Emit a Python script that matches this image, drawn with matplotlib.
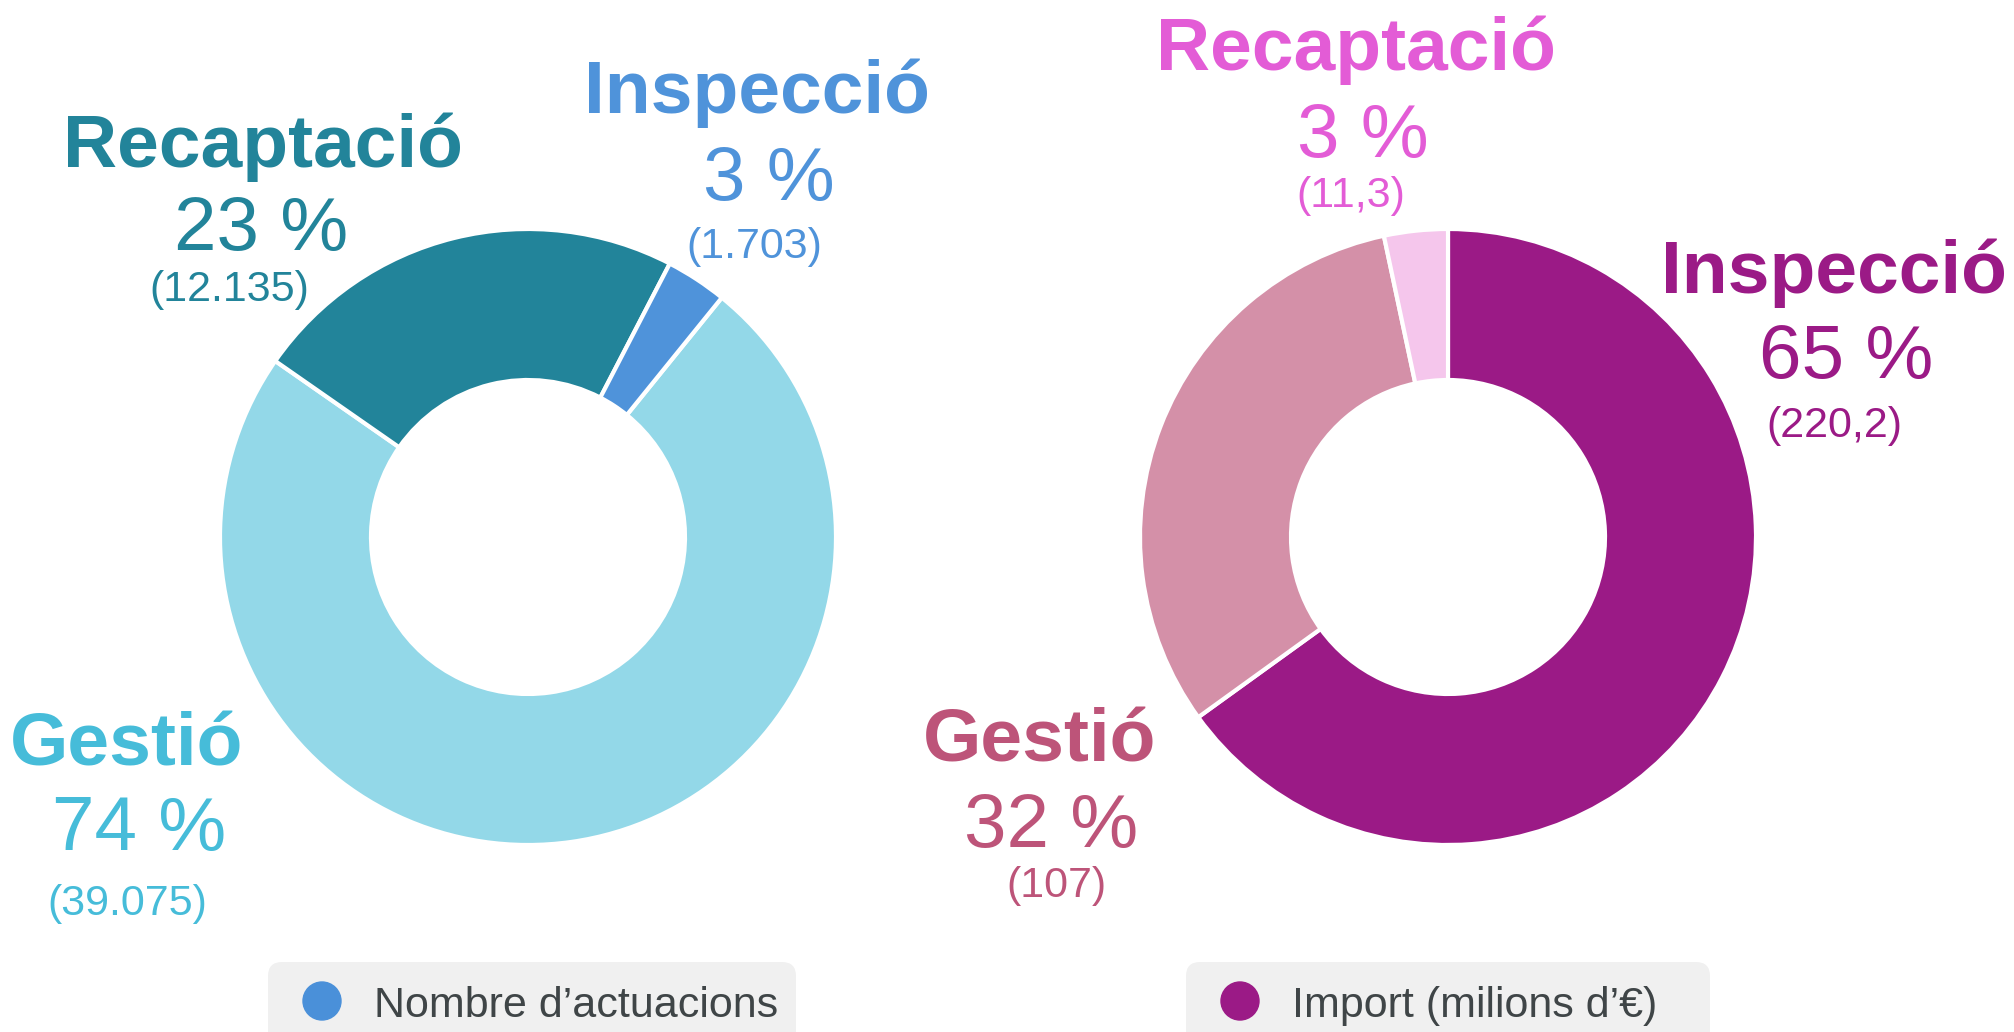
import matplotlib
matplotlib.use("Agg")
import matplotlib.pyplot as plt
from matplotlib.patches import FancyBboxPatch, Circle

plt.rcParams['font.family'] = ['Liberation Sans', 'DejaVu Sans']

# dades
cats_left = ["Gestió", "Recaptació", "Inspecció"]
vals_left = [39075, 12135, 1703]
pct_left = ["74 %", "23 %", "3 %"]
num_left = ["(39.075)", "(12.135)", "(1.703)"]
slice_left = ["#93D8E8", "#22849A", "#4F93DA"]
text_left = ["#46BCD9", "#22849A", "#4F93DA"]

cats_right = ["Inspecció", "Gestió", "Recaptació"]
vals_right = [220.2, 107, 11.3]
pct_right = ["65 %", "32 %", "3 %"]
num_right = ["(220,2)", "(107)", "(11,3)"]
slice_right = ["#9B1A86", "#D490A8", "#F5C6EC"]
text_right = ["#9B1A86", "#BD5479", "#E35CD6"]

W, H = 2014, 1032
fig = plt.figure(figsize=(W / 100, H / 100), dpi=100)
ax = fig.add_axes([0, 0, 1, 1])

def Y(y):
    return H - y

wp = dict(width=151, edgecolor="white", linewidth=3)
ax.pie(vals_left, colors=slice_left, startangle=51, counterclock=False,
       center=(528, Y(537)), radius=308, wedgeprops=wp)
ax.pie(vals_right, colors=slice_right, startangle=90, counterclock=False,
       center=(1448, Y(537)), radius=308, wedgeprops=wp)

# label positions: (x title, baseline title, x pct, baseline pct, x num, baseline num)
pos_left = [(127, 765, 139, 850, 127, 915),
            (263, 167, 261, 250, 229, 301),
            (757, 113, 769, 200, 754, 258)]
pos_right = [(1834, 293, 1846, 378, 1834, 437),
             (1040, 762, 1051, 847, 1056, 897),
             (1356, 70, 1363, 157, 1351, 207)]

def labels(cats, pcts, nums, cols, pos):
    for c, p, n, col, (xt, yt, xp, yp, xn, yn) in zip(cats, pcts, nums, cols, pos):
        ax.text(xt, Y(yt), c, color=col, fontsize=54, fontweight="bold",
                ha="center", va="baseline")
        ax.text(xp, Y(yp), p, color=col, fontsize=55, ha="center", va="baseline")
        ax.text(xn, Y(yn), n, color=col, fontsize=31, ha="center", va="baseline")

labels(cats_left, pct_left, num_left, text_left, pos_left)
labels(cats_right, pct_right, num_right, text_right, pos_right)

# llegendes
legends = [(268, 796, "#4A90D9", "Nombre d\u2019actuacions"),
           (1186, 1710, "#9B1A86", "Import (milions d\u2019\u20ac)")]
for x0, x1, col, txt in legends:
    ax.add_patch(FancyBboxPatch((x0 + 12, Y(1050)), x1 - x0 - 24, 1050 - 962 - 12,
                                boxstyle="round,pad=12,rounding_size=14",
                                fc="#F0F0F0", ec="none"))
    ax.add_patch(Circle((x0 + 54, Y(1001)), 19, color=col))
    ax.text(x0 + 106, Y(1017), txt, color="#3F4547", fontsize=31,
            ha="left", va="baseline")

ax.set_xlim(0, W)
ax.set_ylim(0, H)
ax.set_aspect("auto")
ax.axis("off")

fig.savefig("out.png", dpi=100)
